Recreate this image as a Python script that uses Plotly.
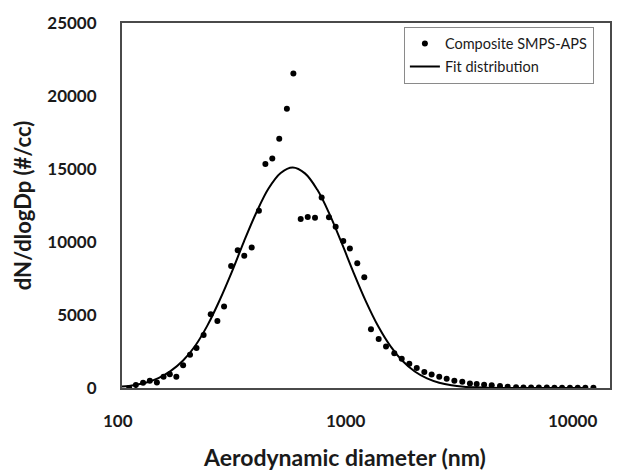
import plotly.graph_objects as go
import math

# Composite SMPS-APS measured points (diameter nm, dN/dlogDp #/cc)
meas_d = [107, 114, 122, 130, 139, 148, 157, 167, 178, 190, 202, 216, 231, 246, 262,
          280, 298, 317, 340, 364, 387, 413, 441, 474, 504, 540, 577, 618, 658, 705,
          751, 807, 859, 921, 984, 1048, 1127, 1208, 1306, 1401, 1505, 1614, 1734, 1858,
          1996, 2141, 2302, 2481, 2667, 2842, 3048, 3275, 3541, 3807, 4121, 4419, 4749,
          5110, 5508, 5918, 6360, 6853, 7375, 7925, 8551]
meas_n = [0, 203, 360, 495, 383, 766, 946, 766, 1554, 2274, 2747, 3626, 5045, 4595, 5586,
          8356, 9437, 9054, 9618, 12140, 15338, 15723, 17074, 19122, 21535, 11575, 11710, 11667, 13041, 11690,
          11050, 10068, 9550, 8536, 7590, 4032, 3356, 2838, 2387, 2005, 1666, 1373, 1103, 924,
          766, 630, 495, 427, 315, 270, 225, 180, 135, 90, 45, 35, 30,
          30, 30, 25, 25, 25, 25, 25, 25]

# Fit distribution
fit_d = [100, 112, 126, 141, 158, 178, 200, 224, 251, 282, 316, 355, 398, 447, 501,
         562, 631, 708, 794, 891, 1000, 1122, 1259, 1413, 1585, 1778, 1995, 2239, 2512,
         2818, 3162, 3981, 5012, 6310, 8000]
fit_n = [97, 195, 371, 671, 1153, 1881, 2914, 4290, 5995, 7958, 10030, 12005, 13650, 14730, 15100,
         14700, 13590, 11930, 9950, 7876, 5920, 4228, 2870, 1847, 1129, 656, 362, 190, 94,
         45, 20, 4, 0, 0, 0]

x_ticks = [100, 1000, 10000]
x_tick_labels = ["100", "1000", "10000"]
x_tick_shift = [-4, -20, -38]
y_ticks = [0, 5000, 10000, 15000, 20000, 25000]
y_tick_labels = ["0", "5000", "10000", "15000", "20000", "25000"]
x_title = "Aerodynamic diameter (nm)"
y_title = "dN/dlogDp (#/cc)"

FONT = "Lato"
TXT = "#1a1a1a"

fig = go.Figure()
fig.add_trace(go.Scatter(
    x=meas_d, y=meas_n, mode="markers", name="Composite SMPS-APS",
    legendgroup="a",
    marker=dict(color="black", size=6),
))
fig.add_trace(go.Scatter(
    x=fit_d, y=fit_n, mode="lines", name="Fit distribution",
    legendgroup="b",
    line=dict(color="black", width=2, shape="spline"),
))

for v, lab, sh in zip(x_ticks, x_tick_labels, x_tick_shift):
    fig.add_annotation(x=math.log10(v), xref="x", y=0, yref="paper", yshift=-32,
                       yanchor="middle", xshift=sh, text=lab, showarrow=False,
                       font=dict(family=FONT, size=17, color=TXT, weight="bold"))

fig.add_annotation(x=0.5, xref="paper", y=0, yref="paper", yshift=-69, yanchor="middle",
                   xshift=-22, text=x_title, showarrow=False,
                   font=dict(family=FONT, size=23, color=TXT, weight="bold"))

fig.update_layout(
    width=644, height=471,
    margin=dict(l=122, r=34, t=17, b=83),
    paper_bgcolor="white", plot_bgcolor="white",
    font=dict(family=FONT, color=TXT),
    legend=dict(
        x=0.967, y=0.99, xanchor="right", yanchor="top",
        bordercolor="#8a8a8a", borderwidth=1, bgcolor="white",
        font=dict(family=FONT, size=14.5, color=TXT),
        itemwidth=30, tracegroupgap=1,
    ),
    xaxis=dict(
        type="log", range=[2, 4], showgrid=False, zeroline=False,
        showline=True, mirror=True, linecolor="#4a4a4a", linewidth=2,
        showticklabels=False, ticks="",
    ),
    yaxis=dict(
        range=[0, 25000], tickvals=y_ticks, ticktext=y_tick_labels,
        showgrid=False, zeroline=False,
        showline=True, mirror=True, linecolor="#4a4a4a", linewidth=2,
        ticks="", ticklabelstandoff=20,
        tickfont=dict(family=FONT, size=17, color=TXT, weight="bold"),
        title=dict(text=y_title, standoff=10,
                   font=dict(family=FONT, size=22, color=TXT, weight="bold")),
    ),
    showlegend=True,
)

fig.write_html("out.html")
